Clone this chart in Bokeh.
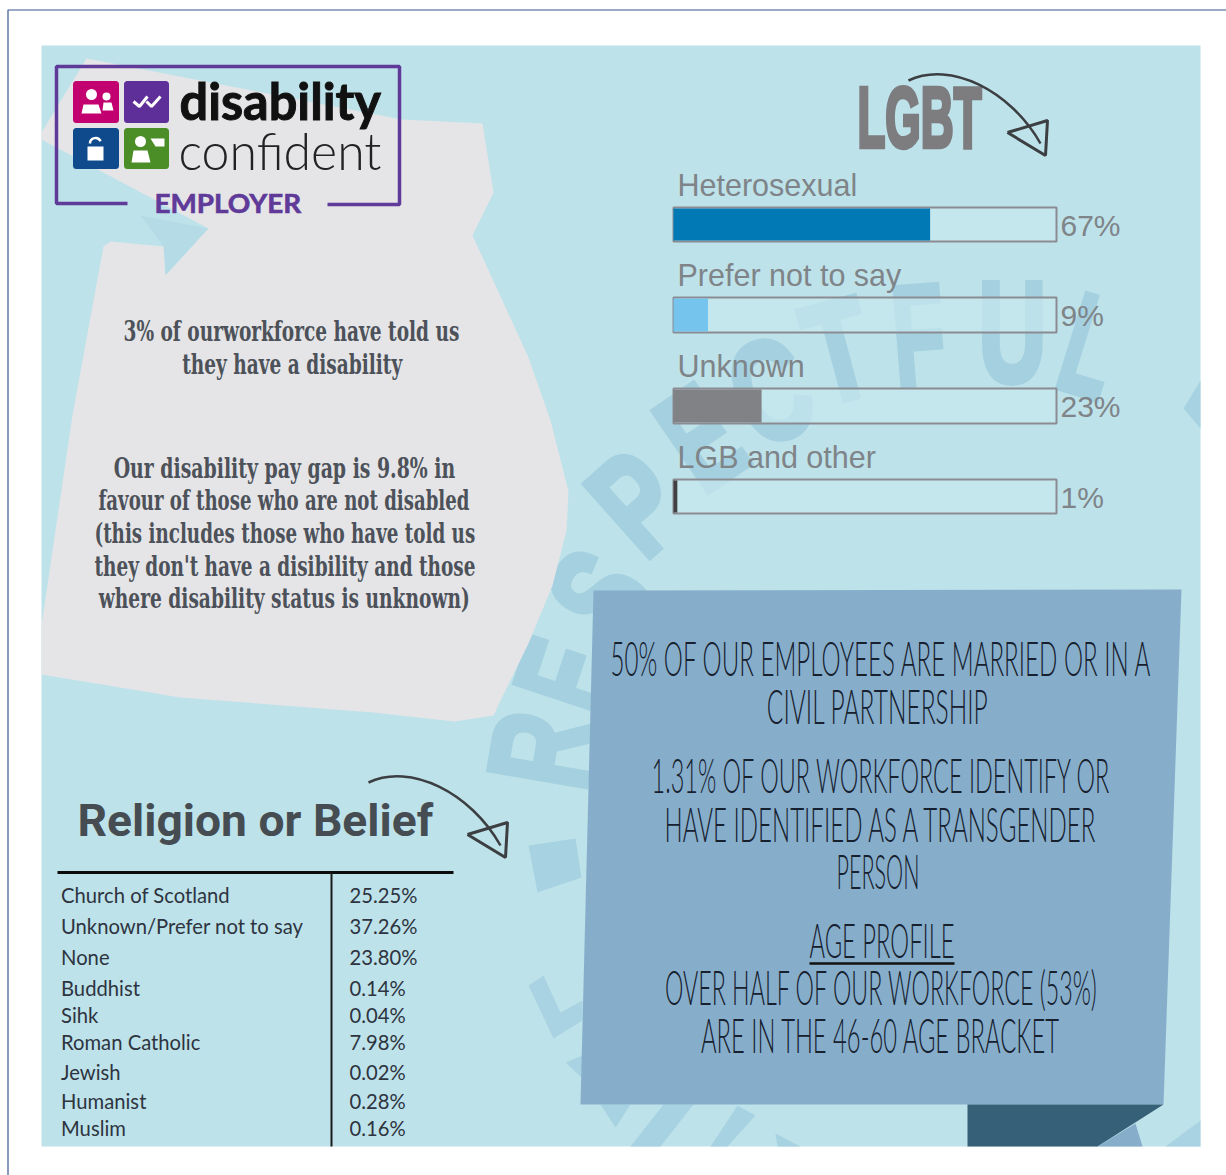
from bokeh.plotting import figure
from bokeh.io import curdoc
from bokeh.models import Range1d, CustomJS
from bokeh.core.properties import value
from bokeh.embed import file_html
from bokeh.resources import INLINE

# ---------- data ----------
lgbt_labels = ["Heterosexual", "Prefer not to say", "Unknown", "LGB and other"]
lgbt_values = [67, 9, 23, 1]
lgbt_colors = ["#0079b5", "#74c4ee", "#808285", "#414042"]

religion_labels = ["Church of Scotland", "Unknown/Prefer not to say", "None", "Buddhist", "Sihk",
                   "Roman Catholic", "Jewish", "Humanist", "Muslim"]
religion_values = [25.25, 37.26, 23.80, 0.14, 0.04, 7.98, 0.02, 0.28, 0.16]

disability_lines = ["3% of ourworkforce have told us", "they have a disability"]
paygap_lines = ["Our disability pay gap is 9.8% in", "favour of those who are not disabled",
                "(this includes those who have told us", "they don't have a disibility and those",
                "where disability status is unknown)"]
panel_lines = ["50% OF OUR EMPLOYEES ARE MARRIED OR IN A", "CIVIL PARTNERSHIP",
               "1.31% OF OUR WORKFORCE IDENTIFY OR", "HAVE IDENTIFIED AS A TRANSGENDER", "PERSON",
               "AGE PROFILE", "OVER HALF OF OUR WORKFORCE (53%)", "ARE IN THE 46-60 AGE BRACKET"]
watermark_letters = list("RESPECTFUL")

# ---------- layout ----------
W, H = 1226, 1175
TRACK_L, TRACK_R = 673, 1056
u = (TRACK_R - TRACK_L) / 100
p = figure(width=W, height=H, output_backend="svg", toolbar_location=None,
           x_range=Range1d(0, W), y_range=Range1d(H, 0), min_border=0,
           outline_line_color=None, background_fill_color="white", border_fill_color="white")
p.extra_x_ranges["pct"] = Range1d(-TRACK_L / u, (W - TRACK_L) / u)
p.axis.visible = False
p.grid.visible = False

fit = {}   # text -> [target width px (or negative x-factor), pivot on left edge, stroke width]

def txt(x, y, s, size, color, font, bold=False, align="left", angle=0, alpha=1.0, w=None, f=None, sw=0):
    p.text([x], [y], text=[s], text_font=value(font), text_font_size=f"{size}px",
           text_font_style="bold" if bold else "normal", text_color=color, text_align=align,
           text_baseline="middle", angle=angle, text_alpha=alpha)
    if w or f:
        fit[s] = [w if w else -f, 1 if align == "left" else 0, sw]

def poly(pts, color, alpha=1.0, lw=0, lc=None):
    p.patch([a for a, _ in pts], [b for _, b in pts], fill_color=color, fill_alpha=alpha,
            line_color=lc if lc else color, line_width=lw, line_alpha=1 if lw else 0, line_join="round")

BG = "#bee2ea"; MARK = "#a4d0e0"; GREY = "#e5e5e7"; PANEL = "#86aecb"
p.quad(left=[41], right=[1200], top=[45], bottom=[1146], fill_color=BG, line_color=None)

# watermark word
wm_x = [541, 568, 600, 636, 700, 770, 838, 918, 1012, 1090]
wm_y = [749, 675, 595, 502, 437, 390, 350, 334, 332, 345]
wm_a = [1.40, 1.25, 0.98, 0.73, 0.60, 0.40, 0.26, 0.08, 0.0, -0.30]
wm_w = [72, 62, 68, 68, 62, 72, 62, 52, 68, 50]
for s, x, y, a, w in zip(watermark_letters, wm_x, wm_y, wm_a, wm_w):
    txt(x, y, s, 142, MARK, "Liberation Sans", bold=True, align="center", angle=a, w=w, sw=6)

# scattered pieces of other watermark words
poly([(528, 845), (575, 838), (581, 877), (537, 892)], MARK, 0.9)
poly([(528, 985), (543, 975), (560, 1012), (582, 1000), (582, 1020), (553, 1038)], MARK, 0.8)
poly([(565, 1062), (582, 1055), (582, 1078)], MARK, 0.8)
poly([(600, 1104), (630, 1104), (615, 1127)], MARK, 0.9)
poly([(663, 1104), (693, 1104), (660, 1146), (630, 1146)], MARK, 0.9)
poly([(737, 1105), (755, 1115), (727, 1146), (710, 1146)], MARK, 0.9)
poly([(775, 1133), (800, 1146), (777, 1146)], MARK, 0.9)
poly([(1165, 1146), (1200, 1120), (1200, 1146)], MARK, 0.8)
poly([(1200, 380), (1183, 408), (1200, 428)], MARK, 0.9)
poly([(140, 215), (208, 228), (165, 275), (163, 246)], "#b4dbe6")

# grey blob
poly([(86, 58), (401, 119), (482, 123), (493, 192), (472, 235), (528, 357), (550, 420), (568, 491),
      (566, 530), (552, 585), (528, 643), (500, 700), (493, 715), (454, 721), (373, 712), (180, 697),
      (41, 674), (41, 625), (72, 415), (103, 246), (110, 241), (163, 246), (165, 275), (208, 228),
      (41, 139), (41, 132)], GREY)

SLAB = "#4d525a"
for y, s, c, w in zip([331, 364], disability_lines, [291, 291.5], [336, 221]):
    txt(c, y, s, 27, SLAB, "DejaVu Serif", bold=True, align="center", w=w)
for y, s, c, w in zip([468, 500, 533, 566, 598], paygap_lines, [284, 283.5, 284.5, 284.5, 284],
                      [342, 371, 381, 381, 372]):
    txt(c, y, s, 27, SLAB, "DejaVu Serif", bold=True, align="center", w=w)

# logo
LOGO = "#5f3a98"
p.line([127, 56, 56, 399, 399, 327], [203, 203, 66, 66, 204, 204], line_color=LOGO, line_width=3.5)
for (l, t, r, b), c in zip([(76, 84, 115, 119), (127, 84, 165, 119), (76, 131, 115, 165), (127, 131, 165, 165)],
                           ["#c2006f", "#5e2f99", "#0f4b8c", "#4b8e27"]):
    poly([(l, t), (r, t), (r, b), (l, b)], c, lw=7)
for cx, cy, r in [(91, 94, 5.5), (106, 96, 4), (140, 141, 5.5)]:
    p.circle([cx], [cy], radius=r, fill_color="white", line_color=None)
poly([(81, 113), (83, 104), (98, 104), (101, 113)], "white")
poly([(102, 110), (103, 102), (111, 102), (113, 110)], "white")
poly([(131, 162), (133, 150), (147, 150), (150, 162)], "white")
poly([(150, 138), (164, 138), (164, 146), (155, 146)], "white")
p.line([133, 139, 147], [101, 106, 96], line_color="white", line_width=3)
p.line([146, 151, 160], [101, 106, 96], line_color="white", line_width=3)
poly([(87, 146), (103, 146), (103, 160), (87, 160)], "white")
p.arc([95], [143], radius=5.5, start_angle=0.4, end_angle=3.14, line_color="white", line_width=2.5)
txt(179, 99, "disability", 52, "#111111", "Lato", bold=True, w=202, sw=1)
txt(178, 150, "confident", 51, "#222222", "Lato Light", w=203)
txt(154, 202, "EMPLOYER", 26, LOGO, "Lato", bold=True, w=147, sw=0.6)

# LGBT block
txt(919, 117, "LGBT", 86, "#7d7d80", "Liberation Sans", bold=True, align="center", w=124, sw=4.5)
ARROW = "#3c3f42"
def arrow(dx, dy):
    p.bezier([908 + dx], [80 + dy], [1040 + dx], [143 + dy], [950 + dx], [60 + dy], [1010 + dx], [90 + dy],
             line_color=ARROW, line_width=2.5)
    p.line([1007 + dx, 1047 + dx, 1045 + dx, 1007 + dx], [132 + dy, 120 + dy, 155 + dy, 132 + dy],
           line_color=ARROW, line_width=3)
arrow(0, 0)
arrow(-540, 702)

for i, (lab, v, c) in enumerate(zip(lgbt_labels, lgbt_values, lgbt_colors)):
    top = [207, 297, 388, 479][i]
    bot = [241, 332, 423, 513][i]
    txt(677, top - 23, lab, 30.5, "#7e8488", "Liberation Sans")
    txt(1060, top + 18, f"{v}%", 30, "#7e8488", "Liberation Sans")
    p.quad(left=[0], right=[100], top=[top], bottom=[bot], x_range_name="pct",
           fill_color="#c6e8ee", fill_alpha=0.7, line_color="#8b8b92", line_width=2)
    p.quad(left=[0], right=[v], top=[top + 1], bottom=[bot - 1], x_range_name="pct",
           fill_color=c, line_color=None)

# panel
poly([(593, 590), (1181, 589), (1163, 1104), (580, 1104)], PANEL)
poly([(967, 1104), (1163, 1104), (1097, 1146), (967, 1146)], "#366077")
poly([(1097, 1146), (1135, 1123), (1142, 1146)], PANEL)
panel_y = [657, 705, 774, 823, 870, 939, 986, 1034]
panel_c = [882, 877.5, 882, 882.5, 877.5, 881.5, 882, 881]
panel_w = [540, 221, 458, 431, 83, 145, 432, 358]
for y, s, c, w in zip(panel_y, panel_lines, panel_c, panel_w):
    txt(c, y, s, 47, "#16202e", "Lato Light", align="center", w=w)
p.line([809, 954], [963, 963], line_color="#111111", line_width=2.5)

# religion block
txt(77, 821, "Religion or Belief", 44, "#454c52", "Roboto", bold=True, w=356)
p.line([57, 453], [872, 872], line_color="#0c0c0c", line_width=3)
p.line([331, 331], [872, 1146], line_color="#1a1a1a", line_width=2)
row_y = [894, 925, 956, 987, 1014, 1041, 1071, 1100, 1127]
for y, lab, v in zip(row_y, religion_labels, religion_values):
    txt(60.5, y, lab, 22, "#2d3440", "Lato", f=0.92)
    txt(349, y, f"{v:.2f}%", 22, "#2d3440", "Lato", f=0.92)

# page border
p.line([7.5, 7.5, W], [H, 9.5, 9.5], line_color="#3a5796", line_width=1.2)

# the original's lettering is much narrower than any installed font: fit each text to its width
squeeze = CustomJS(args=dict(fit=fit), code="""
function walk(root, out) {
  root.querySelectorAll('*').forEach(e => {
    if (e.tagName.toLowerCase() === 'text') out.push(e);
    if (e.shadowRoot) walk(e.shadowRoot, out);
  });
}
function run() {
  const ts = []; walk(document, ts);
  const m = fit instanceof Map ? fit : new Map(Object.entries(fit));
  ts.forEach(el => {
    if (el.dataset.fitted) return;
    const spec = m.get(el.textContent); if (!spec) return;
    const b = el.getBBox(); if (!b.width) return;
    const s = spec[0] > 0 ? spec[0] / b.width : -spec[0];
    const px = spec[1] ? b.x : b.x + b.width / 2;
    const t = el.getAttribute('transform') || '';
    el.setAttribute('transform', `${t} translate(${px} 0) scale(${s} 1) translate(${-px} 0)`);
    if (spec[2]) {
      el.setAttribute('stroke', el.getAttribute('fill'));
      el.setAttribute('stroke-width', spec[2]);
    }
    el.dataset.fitted = '1';
  });
}
run(); [30, 100, 300, 800, 1500, 3000].forEach(d => setTimeout(run, d));
""")
curdoc().add_root(p)
curdoc().js_on_event("document_ready", squeeze)

open("out.html", "w").write(file_html(p, INLINE))
